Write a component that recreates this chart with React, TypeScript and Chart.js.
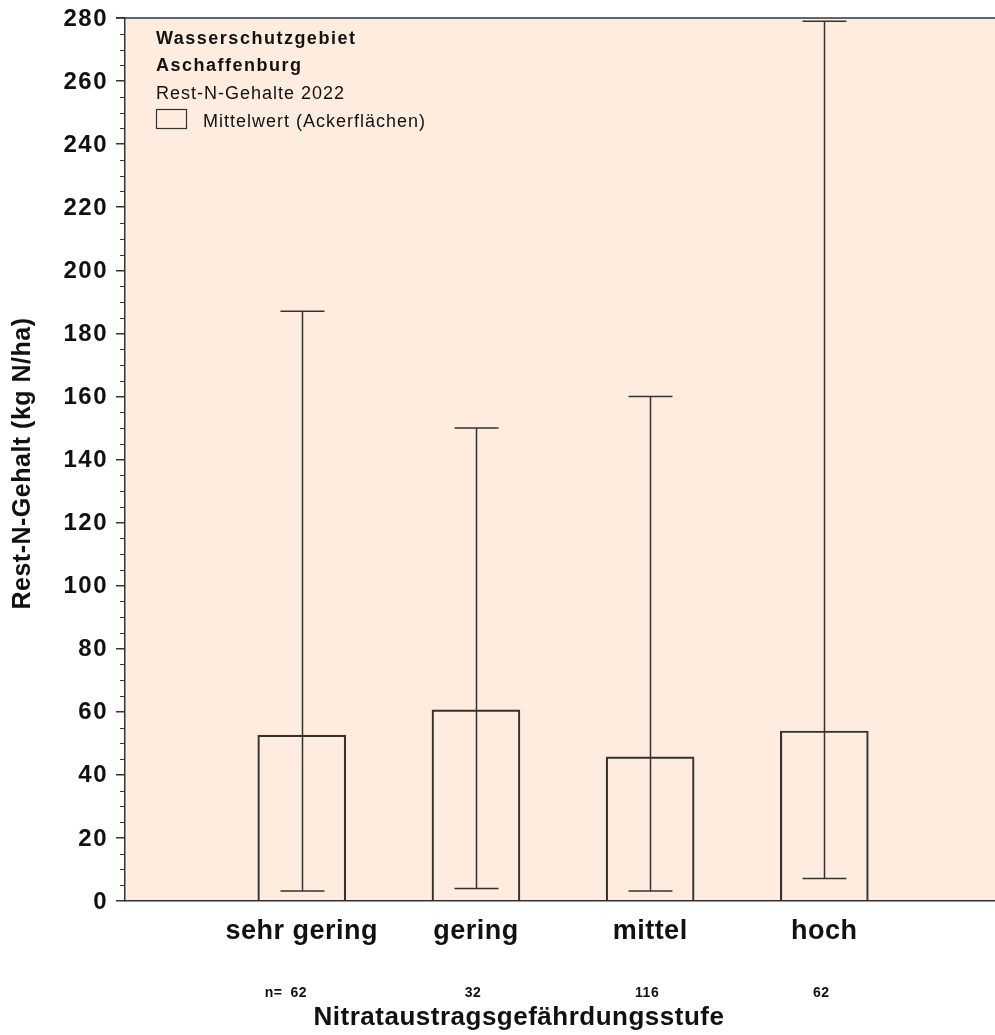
import React, { useEffect, useRef } from "react";
import { Chart, registerables } from "chart.js";

Chart.register(...registerables);

const categories = ["sehr gering", "gering", "mittel", "hoch"];
const positions = [1, 2, 3, 4];
const means = [52.6, 60.6, 45.7, 53.9];
const minVals = [3.2, 4.0, 3.2, 7.1];
const maxVals = [187, 150, 160, 279];
const counts = ["62", "32", "116", "62"];
const yTicksMajor = [0, 20, 40, 60, 80, 100, 120, 140, 160, 180, 200, 220, 240, 260, 280];

const FONT = '"Liberation Sans", Arial, sans-serif';
const INK = "#111";
const LINE = "#333";
const BG = "#FEEDDE";

export default function App() {
  const ref = useRef<HTMLCanvasElement | null>(null);
  useEffect(() => {
    const canvas = ref.current!;
    const setLS = (ctx: any, v: string) => {
      ctx.letterSpacing = v;
    };
    const deco = {
      id: "deco",
      beforeDraw(chart: any) {
        const { ctx, chartArea: a } = chart;
        ctx.save();
        ctx.fillStyle = "#fff";
        ctx.fillRect(0, 0, chart.width, chart.height);
        ctx.fillStyle = BG;
        ctx.fillRect(a.left, a.top, a.right - a.left, a.bottom - a.top);
        ctx.restore();
      },
      afterDatasetsDraw(chart: any) {
        const { ctx } = chart;
        const xs = chart.scales.x;
        const ys = chart.scales.y;
        ctx.save();
        ctx.strokeStyle = LINE;
        ctx.lineWidth = 1.5;
        positions.forEach((p, i) => {
          const x = Math.round(xs.getPixelForValue(p)) + 0.5;
          const y1 = ys.getPixelForValue(minVals[i]);
          const y2 = ys.getPixelForValue(maxVals[i]);
          ctx.beginPath();
          ctx.moveTo(x, y1);
          ctx.lineTo(x, y2);
          ctx.moveTo(x - 22, y1);
          ctx.lineTo(x + 22, y1);
          ctx.moveTo(x - 22, y2);
          ctx.lineTo(x + 22, y2);
          ctx.stroke();
        });
        ctx.restore();
      },
      afterDraw(chart: any) {
        const { ctx, chartArea: a } = chart;
        const xs = chart.scales.x;
        const ys = chart.scales.y;
        ctx.save();
        // top border
        ctx.strokeStyle = LINE;
        ctx.lineWidth = 1.5;
        ctx.beginPath();
        ctx.moveTo(a.left - 9, a.top);
        ctx.lineTo(a.right, a.top);
        ctx.stroke();
        // minor ticks
        ctx.lineWidth = 1.2;
        ctx.beginPath();
        for (let v = 0; v <= 280; v += 5) {
          if (v % 20 === 0) continue;
          const y = Math.round(ys.getPixelForValue(v)) + 0.5;
          ctx.moveTo(a.left - 5, y);
          ctx.lineTo(a.left, y);
        }
        ctx.stroke();
        // y tick labels
        ctx.fillStyle = INK;
        ctx.font = `bold 24px ${FONT}`;
        setLS(ctx, "1.5px");
        ctx.textAlign = "right";
        ctx.textBaseline = "middle";
        yTicksMajor.forEach((v) => {
          ctx.fillText(String(v), a.left - 17, ys.getPixelForValue(v) + 1);
        });
        // category labels
        ctx.textAlign = "center";
        ctx.font = `bold 27px ${FONT}`;
        setLS(ctx, "0.5px");
        categories.forEach((c, i) => {
          ctx.fillText(c, xs.getPixelForValue(positions[i]), 932);
        });
        // counts
        ctx.font = `bold 14px ${FONT}`;
        setLS(ctx, "0.5px");
        counts.forEach((n, i) => {
          const x = xs.getPixelForValue(positions[i]) - 3;
          ctx.textAlign = "center";
          ctx.fillText(n, x, 993);
          if (i === 0) {
            const w = ctx.measureText(n).width;
            ctx.textAlign = "right";
            ctx.fillText("n=", x - w / 2 - 8, 993);
          }
        });
        // x title
        ctx.textAlign = "center";
        ctx.font = `bold 26px ${FONT}`;
        setLS(ctx, "0.5px");
        ctx.fillText("Nitrataustragsgefährdungsstufe", 519, 1018);
        // y title
        ctx.save();
        ctx.translate(23, (a.top + a.bottom) / 2 + 4);
        ctx.rotate(-Math.PI / 2);
        ctx.font = `bold 25px ${FONT}`;
        setLS(ctx, "0.5px");
        ctx.fillText("Rest-N-Gehalt (kg N/ha)", 0, 0);
        ctx.restore();
        // legend block
        ctx.textAlign = "left";
        ctx.textBaseline = "alphabetic";
        setLS(ctx, "1.5px");
        ctx.font = `bold 18px ${FONT}`;
        ctx.fillText("Wasserschutzgebiet", 156, 44);
        ctx.fillText("Aschaffenburg", 156, 71);
        setLS(ctx, "1px");
        ctx.font = `18px ${FONT}`;
        ctx.fillText("Rest-N-Gehalte 2022", 156, 99);
        ctx.fillText("Mittelwert (Ackerflächen)", 203, 127);
        setLS(ctx, "0px");
        ctx.strokeStyle = LINE;
        ctx.lineWidth = 1.2;
        ctx.strokeRect(156.5, 109.5, 30, 19);
        ctx.restore();
      },
    };
    const chart = new Chart(canvas, {
      type: "bar",
      data: {
        datasets: [
          {
            label: "Mittelwert (Ackerflächen)",
            data: positions.map((p, i) => ({ x: p, y: means[i] })),
            backgroundColor: "rgba(0,0,0,0)",
            borderColor: LINE,
            borderWidth: 1.5,
            barThickness: 88,
          },
        ],
      },
      options: {
        responsive: false,
        animation: false,
        devicePixelRatio: 1,
        layout: { padding: { top: 18, right: 0, left: 0, bottom: 0 } },
        plugins: { legend: { display: false }, tooltip: { enabled: false } },
        scales: {
          x: {
            type: "linear",
            min: -0.015,
            max: 4.98,
            offset: false,
            ticks: { display: false },
            grid: { display: false },
            border: { display: true, color: LINE, width: 1.5 },
            afterFit: (s: any) => {
              s.height = 134;
            },
          },
          y: {
            min: 0,
            max: 280,
            ticks: { stepSize: 20, display: false },
            grid: { drawOnChartArea: false, drawTicks: true, tickLength: 9, color: LINE, lineWidth: 1.5 },
            border: { display: true, color: LINE, width: 1.5 },
            afterFit: (s: any) => {
              s.width = 125;
            },
          },
        },
      },
      plugins: [deco],
    } as any);
    return () => chart.destroy();
  }, []);
  return (
    <div style={{ position: "fixed", left: 0, top: 0, width: 995, height: 1035 }}>
      <canvas ref={ref} width={995} height={1035} />
    </div>
  );
}
